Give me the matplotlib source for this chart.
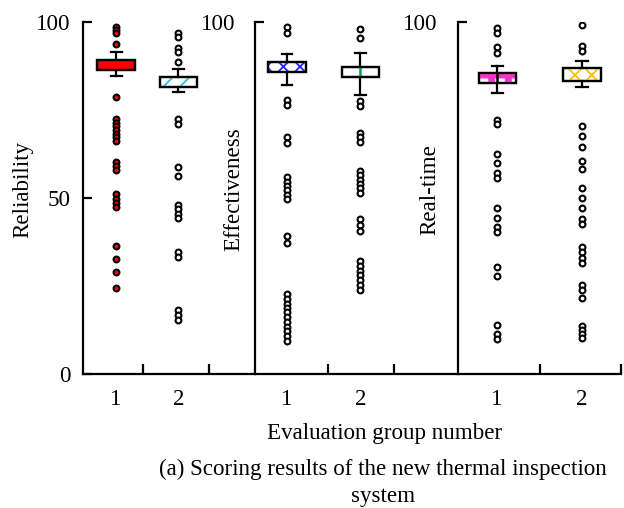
import matplotlib
matplotlib.use("Agg")
import matplotlib.pyplot as plt
from matplotlib.patches import PathPatch

plt.rcParams['font.family'] = ['Liberation Serif', 'DejaVu Serif']
plt.rcParams['font.size'] = 16.6
plt.rcParams['hatch.linewidth'] = 1.3

# ---------------- data ----------------
groups = ["1", "2"]
panel_labels = ["Reliability", "Effectiveness", "Real-time"]
x_label = "Evaluation group number"
caption = "(a) Scoring results of the new thermal inspection\nsystem"

# box statistics: [whislo, q1, med, q3, whishi]
rel_g1_box = [84.8, 86.3, 87.5, 89.1, 91.4]
rel_g1_out = [98.7, 97.7, 96.8, 93.8, 78.8, 72.4, 71.4, 70.4, 69.3, 68.3, 67.2,
              66.2, 60.3, 59.2, 58.0, 51.0, 49.8, 48.7, 47.5, 36.5, 32.7, 29.1, 24.3]
rel_g2_box = [80.0, 81.4, 82.5, 84.4, 86.6]
rel_g2_out = [96.8, 95.6, 92.7, 91.6, 88.5, 72.4, 71.0, 58.7, 56.3, 48.0, 46.8,
              45.5, 44.4, 34.8, 33.3, 18.2, 16.8, 15.2]

eff_g1_box = [82.0, 85.7, 87.0, 88.5, 91.0]
eff_g1_out = [98.5, 97.0, 77.7, 76.4, 67.4, 65.5, 55.9, 54.6, 53.4, 52.2, 50.9,
              49.7, 39.2, 37.3, 22.6, 21.3, 20.0, 18.8, 17.5, 16.1, 14.8, 13.4,
              12.2, 10.9, 9.5]
eff_g2_box = [79.3, 84.5, 86.0, 87.3, 91.3]
eff_g2_out = [97.9, 95.5, 77.6, 76.2, 68.6, 67.3, 65.9, 57.7, 56.4, 55.2, 54.0,
              52.8, 51.5, 44.0, 42.3, 40.6, 32.1, 30.7, 29.3, 28.0, 26.6, 25.2, 23.9]

rt_g1_box = [79.8, 82.7, 84.0, 85.5, 87.4]
rt_g1_out = [98.4, 97.0, 92.8, 91.3, 72.3, 70.9, 62.4, 59.9, 57.0, 55.6, 47.1,
             44.4, 41.8, 40.4, 30.5, 27.9, 13.9, 11.3, 9.9]
rt_g2_box = [81.4, 83.3, 85.0, 86.8, 88.9]
rt_g2_out = [99.1, 93.1, 91.8, 70.5, 67.5, 64.6, 60.5, 58.2, 52.8, 49.9, 47.1,
             44.0, 42.5, 36.2, 34.7, 33.0, 31.4, 25.3, 23.9, 21.7, 13.7, 12.5,
             11.3, 10.1]

# ---------------- layout ----------------
W, H = 624, 508
fig = plt.figure(figsize=(W / 100, H / 100), dpi=100)

y_bot_px, y_top_px = 374, 22
def axrect(x0, x1):
    return [x0 / W, 1 - y_bot_px / H, (x1 - x0) / W, (y_bot_px - y_top_px) / H]

panels = [
    dict(rect=axrect(83, 255), xlim=(0.470, 3.231), minor=[1.433, 2.493],
         width=0.60, capw=0.177,
         data=[(rel_g1_box, rel_g1_out), (rel_g2_box, rel_g2_out)],
         styles=[dict(fc='#ff0000', hatch=None, hc=None, line=None, ffc='#ff0000'),
                 dict(fc='white', hatch='//', hc='#33bbee', line=None, ffc='white')],
         ylabel=panel_labels[0], ylab_x=-0.288, yticks=[0, 50, 100], ypad=9.0),
    dict(rect=axrect(255, 458), xlim=(0.5634, 3.333), minor=[1.559, 2.460],
         width=0.51, capw=0.15,
         data=[(eff_g1_box, eff_g1_out), (eff_g2_box, eff_g2_out)],
         styles=[dict(fc='white', hatch='xx', hc='#2222ff', line=None, ffc='white'),
                 dict(fc='white', hatch=None, hc=None, line='#00a050', ffc='white')],
         ylabel=panel_labels[1], ylab_x=-0.054, yticks=[100], ypad=14.0),
    dict(rect=axrect(458, 621), xlim=(0.5377, 2.46), minor=[1.505, 2.46],
         width=0.44, capw=0.13,
         data=[(rt_g1_box, rt_g1_out), (rt_g2_box, rt_g2_out)],
         styles=[dict(fc='white', hatch='+', hc='#ff33cc', line='black', ffc='white'),
                 dict(fc='white', hatch='xx', hc='#ffc000', line=None, ffc='white')],
         ylabel=panel_labels[2], ylab_x=-0.109, yticks=[100], ypad=14.5),
]

for p in panels:
    ax = fig.add_axes(p['rect'])
    for i, ((box, out), st) in enumerate(zip(p['data'], p['styles'])):
        pos = i + 1
        stats = [dict(whislo=box[0], q1=box[1], med=box[2], q3=box[3],
                      whishi=box[4], fliers=out)]
        res = ax.bxp(stats, positions=[pos], widths=[p['width']],
                     capwidths=[p['capw']], patch_artist=True, showfliers=True,
                     boxprops=dict(facecolor=st['fc'], edgecolor='black', linewidth=1.6),
                     whiskerprops=dict(color='black', linewidth=1.6),
                     capprops=dict(color='black', linewidth=1.6),
                     medianprops=dict(visible=False),
                     flierprops=dict(marker='o', markersize=4.2,
                                     markerfacecolor=st['ffc'],
                                     markeredgecolor='black',
                                     markeredgewidth=1.5, linestyle='none'))
        b = res['boxes'][0]
        z = b.get_zorder()
        if st['hatch']:
            hp = PathPatch(b.get_path(), facecolor='none', edgecolor=st['hc'],
                           linewidth=0, hatch=st['hatch'], zorder=z + 0.1)
            if st['hatch'] == '+' and hasattr(hp, 'set_hatch_linewidth'):
                hp.set_hatch_linewidth(5)
            ax.add_patch(hp)
        if st['line']:
            ax.vlines(pos, box[1], box[3], color=st['line'], linewidth=1.8,
                      zorder=z + 0.15)
        ax.add_patch(PathPatch(b.get_path(), facecolor='none', edgecolor='black',
                               linewidth=1.6, zorder=z + 0.2))

    ax.set_xlim(*p['xlim'])
    ax.set_ylim(0, 100)
    for s in ['top', 'right']:
        ax.spines[s].set_visible(False)
    for s in ['left', 'bottom']:
        ax.spines[s].set_linewidth(1.6)
    ax.set_xticks([1, 2], groups)
    ax.set_xticks(p['minor'], minor=True)
    ax.tick_params(axis='x', which='major', length=0, pad=11)
    ax.tick_params(axis='x', which='minor', direction='in', length=7.5, width=1.6)
    ax.set_yticks(p['yticks'], [str(t) for t in p['yticks']])
    ax.tick_params(axis='y', which='major', direction='in', length=6.8,
                   width=1.6, pad=p['ypad'])
    ax.set_ylabel(p['ylabel'])
    ax.yaxis.set_label_coords(p['ylab_x'], 0.525)
    ax.patch.set_alpha(0)

fig.text(385 / W, 1 - 433 / H, x_label, ha='center', va='center')
fig.text(383 / W, 1 - 483 / H, caption, ha='center', va='center',
         multialignment='center', linespacing=1.35)

fig.savefig("out.png", dpi=100)
